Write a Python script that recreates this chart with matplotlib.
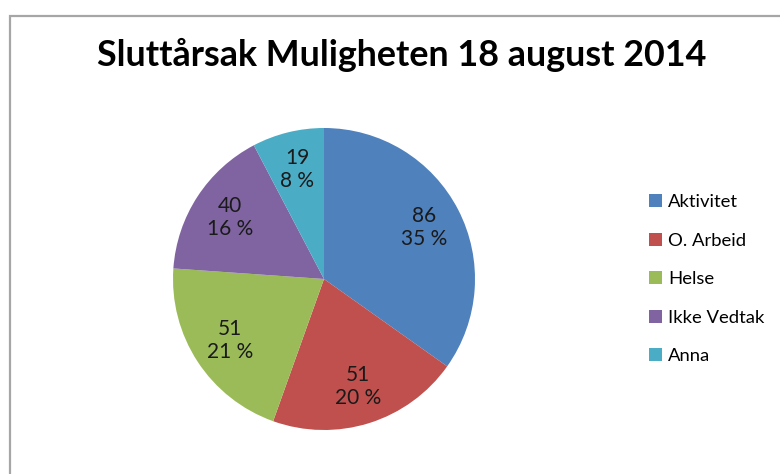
import matplotlib

matplotlib.use("Agg")
import matplotlib.pyplot as plt
import numpy as np
from matplotlib.patches import Rectangle

# data
categories = ["Aktivitet", "O. Arbeid", "Helse", "Ikke Vedtak", "Anna"]
counts = [86, 51, 51, 40, 19]
pct_labels = ["35 %", "20 %", "21 %", "16 %", "8 %"]
colors = ["#4F81BD", "#C0504D", "#9BBB59", "#8064A2", "#4BACC6"]
title = "Sluttårsak Muligheten 18 august 2014"

W, H = 780, 474
fig = plt.figure(figsize=(W / 100, H / 100), dpi=100)
fig.patch.set_facecolor("white")

# chart area frame (runs off the right/bottom edge like the screenshot)
fig.patches.append(Rectangle((10 / W, -0.1), 1.2, (H - 16) / H + 0.1, transform=fig.transFigure,
                             fill=False, edgecolor="#A6A6A6", linewidth=1.6))

cx, cy, r = 324, 279, 151
ax = fig.add_axes([(cx - r) / W, (H - cy - r) / H, 2 * r / W, 2 * r / H])
wedges, _ = ax.pie(counts, colors=colors, startangle=90, counterclock=False, radius=1.0,
                   wedgeprops={"linewidth": 0})
ax.set_xlim(-1, 1)
ax.set_ylim(-1, 1)
ax.set_aspect("equal")

for wedge, count, pct in zip(wedges, counts, pct_labels):
    mid = np.deg2rad((wedge.theta1 + wedge.theta2) / 2)
    x, y = 0.745 * np.cos(mid), 0.745 * np.sin(mid)
    ax.text(x, y, f"{count}\n{pct}", ha="center", va="center", fontsize=15,
            family="Lato", color="#1a1a1a", linespacing=1.2)

fig.text(402 / W, 1 - 55 / H, title, ha="center", va="center", fontsize=25.8,
         family="Lato", fontweight="bold", color="black")

legend = fig.legend(wedges, categories, loc="upper left", bbox_to_anchor=(649 / W, 1 - 194 / H),
                    frameon=False, prop={"family": "Lato", "size": 13.3}, handlelength=0.7,
                    handleheight=0.7, handletextpad=0.35, labelspacing=1.22, borderpad=0,
                    borderaxespad=0)

fig.savefig("out.png", dpi=100)
